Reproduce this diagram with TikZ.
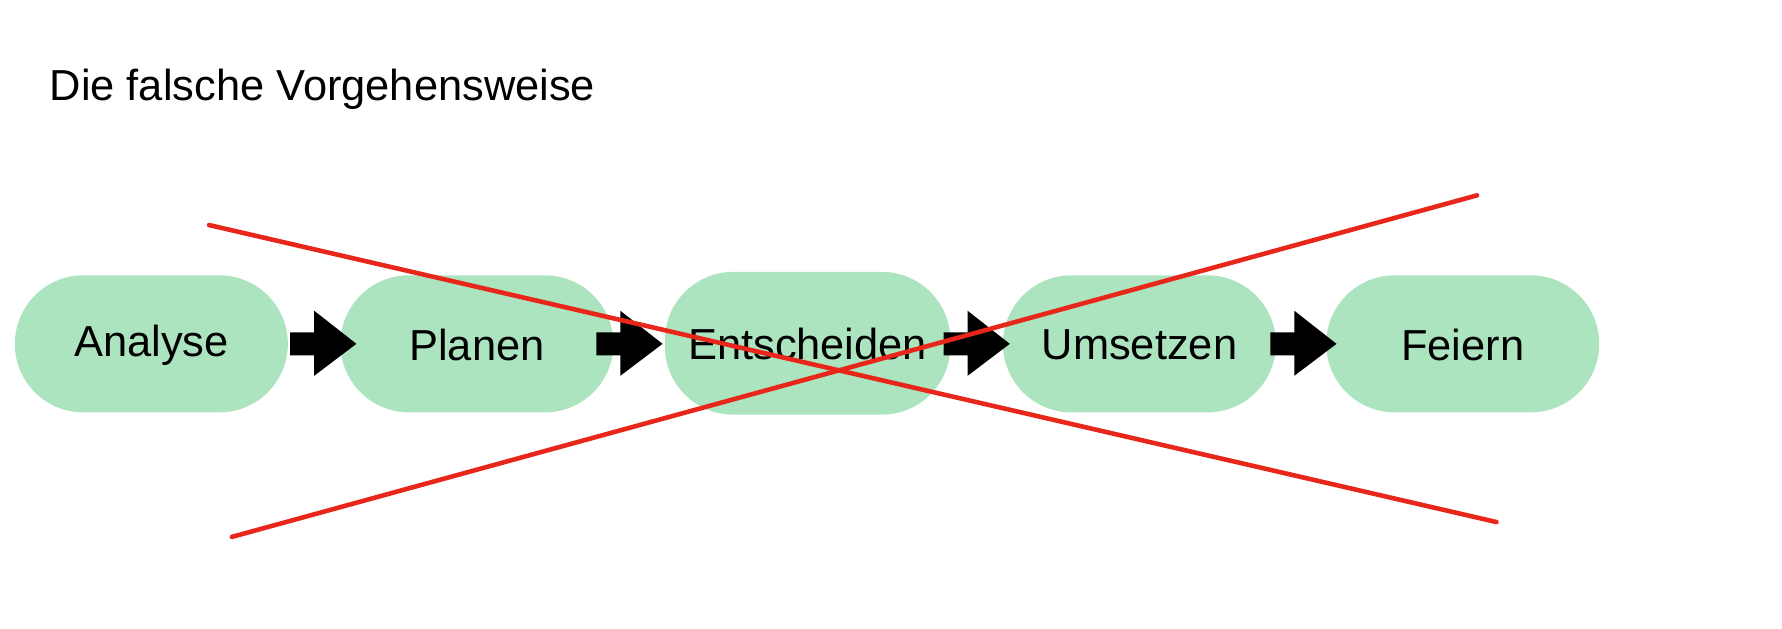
\documentclass[tikz,border=0pt]{standalone}
\usepackage{fontspec}
\setmainfont{Liberation Sans}
\begin{document}
\begin{tikzpicture}[x=1pt,y=-1pt,
  step/.style={fill={rgb,255:red,172;green,228;blue,192},rounded corners=60pt,inner sep=0pt,font=\fontsize{38}{40}\selectfont},
  blk/.style={fill=black}]
\useasboundingbox (0,0) rectangle (1560,550);
\node[anchor=base west,font=\fontsize{38}{40}\selectfont] (title) at (40,88) {Die falsche Vorgehensweise};
\foreach \n/\a/\b/\t/\bo/\txt in {a/13/252/241/361/Analyse,p/298/537/241/361/Planen,e/582/832/238/363/Entscheiden,u/878/1117/241/361/Umsetzen,f/1161/1400/241/361/Feiern}{
  \fill[fill={rgb,255:red,172;green,228;blue,192},rounded corners=60pt] (\a,\t) rectangle (\b,\bo);
  \node[font=\fontsize{38}{40}\selectfont] (\n) at ({(\a+\b)/2},{(\t+\bo)/2+1}) {\txt};
}
\foreach \s in {254,522,826,1112}{
  \fill[blk] (\s,291) -- (\s+21,291) -- (\s+21,272) -- (\s+58,301) -- (\s+21,329) -- (\s+21,311) -- (\s,311) -- cycle;
}
\coordinate (r1a) at (183,197); \coordinate (r1b) at (1310,457);
\coordinate (r2a) at (203,470); \coordinate (r2b) at (1293,171);
\draw[line width=4pt,color={rgb,255:red,232;green,38;blue,26},line cap=round] (r1a) -- (r1b);
\draw[line width=4pt,color={rgb,255:red,232;green,38;blue,26},line cap=round] (r2a) -- (r2b);
\end{tikzpicture}
\end{document}
